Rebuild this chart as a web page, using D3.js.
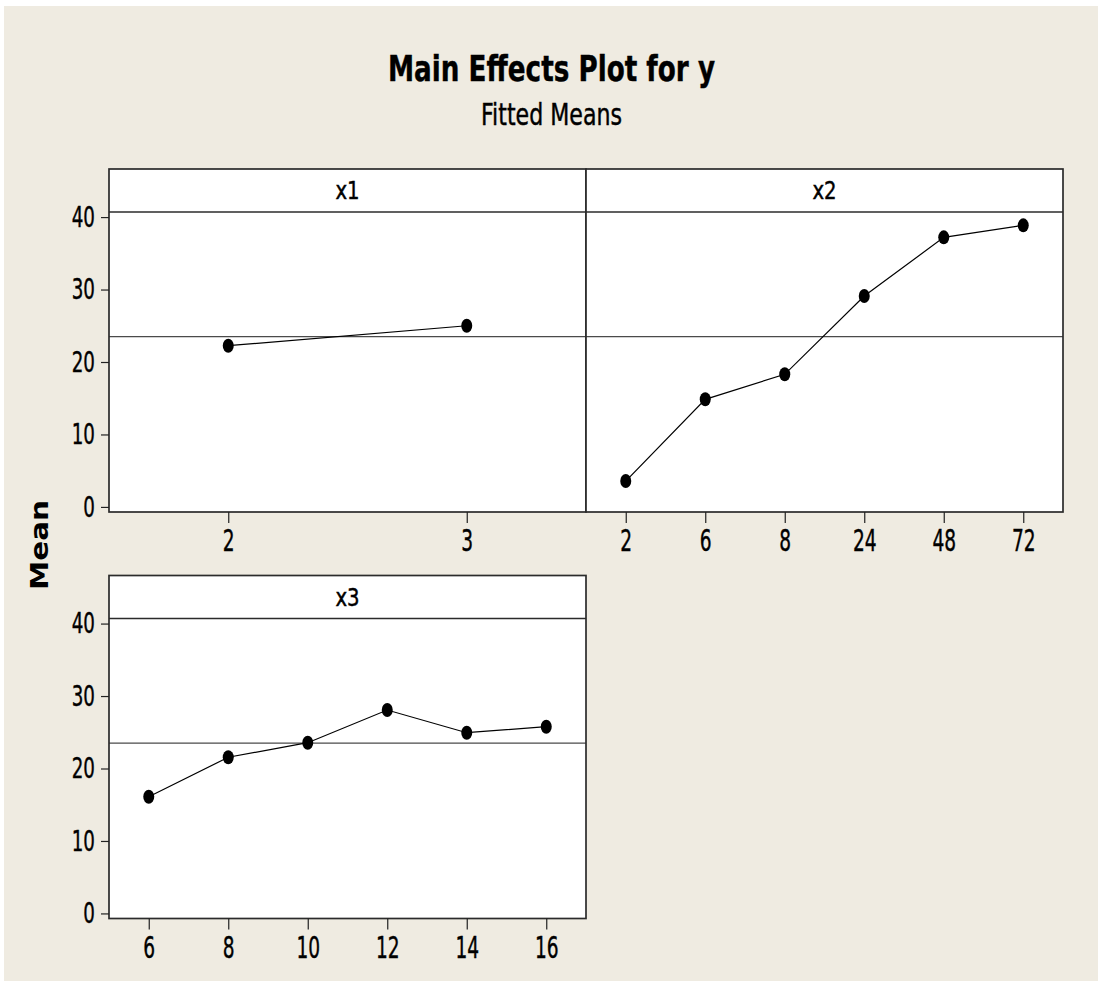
<!DOCTYPE html>
<html>
<head>
<meta charset="utf-8">
<script src="https://cdn.jsdelivr.net/npm/d3@7"></script>
<style>
  html, body { margin: 0; padding: 0; background: #ffffff; }
  svg { display: block; }
  text { font-family: "DejaVu Sans", Verdana, sans-serif; fill: #000; }
  text.heavy { stroke: #000; stroke-width: 0.45px; }
</style>
</head>
<body>
<svg id="chart" width="1098" height="985"></svg>
<script>
// Fitted means for each factor level
const x1Levels = ["2", "3"];
const x1Means  = [22.25, 25.0];

const x2Levels = ["2", "6", "8", "24", "48", "72"];
const x2Means  = [3.57, 14.85, 18.3, 29.1, 37.2, 38.86];

const x3Levels = ["6", "8", "10", "12", "14", "16"];
const x3Means  = [16.1, 21.55, 23.56, 28.07, 24.94, 25.77];

const grandMean = 23.5;
const yTicks = [0, 10, 20, 30, 40];
const yDomain = [-0.7, 40.7];

const titleText = "Main Effects Plot for y";
const subtitleText = "Fitted Means";
const yLabel = "Mean";

// Layout
const W = 1098, H = 985;
const panelW = 477;
const left0 = 109;
const stripH = 43;
const dataH = 300;
const rowTops = [169, 575.5];

const panels = [
  { name: "x1", levels: x1Levels, means: x1Means, col: 0, row: 0, yAxis: true },
  { name: "x2", levels: x2Levels, means: x2Means, col: 1, row: 0, yAxis: false },
  { name: "x3", levels: x3Levels, means: x3Means, col: 0, row: 1, yAxis: true }
];

const svg = d3.select("#chart");

// squeeze or stretch a text run horizontally
function fitWidth(sel, k) {
  sel.each(function () {
    const w = this.getComputedTextLength();
    d3.select(this).attr("textLength", w * k).attr("lengthAdjust", "spacingAndGlyphs");
  });
}

// page background
svg.append("rect").attr("x", 4).attr("y", 6).attr("width", W - 4).attr("height", 975)
  .attr("fill", "#efebe1");

// titles
svg.append("text").attr("x", 551.5).attr("y", 80.5).attr("text-anchor", "middle")
  .attr("class", "heavy")
  .attr("font-size", 36).attr("font-weight", "bold")
  .attr("textLength", 327).attr("lengthAdjust", "spacingAndGlyphs")
  .text(titleText);
svg.append("text").attr("x", 551.5).attr("y", 125).attr("text-anchor", "middle")
  .attr("class", "heavy")
  .attr("font-size", 30)
  .attr("textLength", 141).attr("lengthAdjust", "spacingAndGlyphs")
  .text(subtitleText);

// shared y label
svg.append("text")
  .attr("transform", "translate(48,545) rotate(-90)")
  .attr("text-anchor", "middle").attr("font-size", 25).attr("font-weight", "bold")
  .attr("textLength", 90).attr("lengthAdjust", "spacingAndGlyphs")
  .text(yLabel);

const borderColor = "#2b2b2b";

panels.forEach(p => {
  const x0 = left0 + p.col * panelW;
  const top = rowTops[p.row];
  const dataTop = top + stripH;
  const bottom = dataTop + dataH;

  const x = d3.scalePoint().domain(p.levels).range([x0, x0 + panelW]).padding(0.5);
  const y = d3.scaleLinear().domain(yDomain).range([bottom, dataTop]);

  const g = svg.append("g");

  // panel area
  g.append("rect").attr("x", x0).attr("y", top).attr("width", panelW).attr("height", stripH + dataH)
    .attr("fill", "#fff");

  // grand mean reference line
  g.append("line").attr("x1", x0).attr("x2", x0 + panelW)
    .attr("y1", y(grandMean)).attr("y2", y(grandMean))
    .attr("stroke", "#4a4a4a").attr("stroke-width", 1.4);

  // strip separator and label
  g.append("line").attr("x1", x0).attr("x2", x0 + panelW).attr("y1", dataTop).attr("y2", dataTop)
    .attr("stroke", borderColor).attr("stroke-width", 1.7);
  g.append("text").attr("x", x0 + panelW / 2).attr("y", top + 30).attr("text-anchor", "middle")
    .attr("class", "heavy")
    .attr("font-size", 24).text(p.name).call(fitWidth, 0.82);

  // means line and markers
  const pts = p.levels.map((l, i) => [x(l), y(p.means[i])]);
  g.append("path").attr("d", d3.line()(pts)).attr("fill", "none")
    .attr("stroke", "#000").attr("stroke-width", 1.2);
  g.selectAll("ellipse.pt").data(p.levels).join("ellipse").attr("class", "pt")
    .attr("cx", d => x(d)).attr("cy", (d, i) => y(p.means[i]))
    .attr("rx", 5.5).attr("ry", 7).attr("fill", "#000");

  // border
  g.append("rect").attr("x", x0).attr("y", top).attr("width", panelW).attr("height", stripH + dataH)
    .attr("fill", "none").attr("stroke", borderColor).attr("stroke-width", 1.7);

  // x axis
  const xa = g.append("g").attr("transform", `translate(0,${bottom})`)
    .call(d3.axisBottom(x).tickSize(11).tickPadding(7));
  xa.select(".domain").remove();
  xa.selectAll(".tick line").attr("stroke", "#222").attr("stroke-width", 1.2);
  xa.selectAll(".tick text").attr("class", "heavy").attr("font-size", 30)
    .attr("font-family", "DejaVu Sans").call(fitWidth, 0.62);

  // y axis
  if (p.yAxis) {
    const ya = g.append("g").attr("transform", `translate(${x0},0)`)
      .call(d3.axisLeft(y).tickValues(yTicks).tickSize(8).tickPadding(6));
    ya.select(".domain").remove();
    ya.selectAll(".tick line").attr("stroke", "#222").attr("stroke-width", 1.2);
    ya.selectAll(".tick text").attr("class", "heavy").attr("font-size", 29)
      .attr("font-family", "DejaVu Sans").call(fitWidth, 0.63);
  }
});
</script>
</body>
</html>
